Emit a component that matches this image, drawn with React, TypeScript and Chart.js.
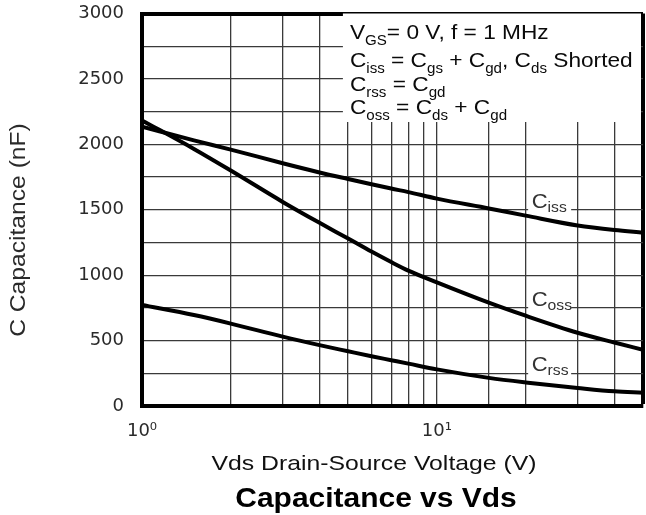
import React, { useEffect, useRef } from "react";
import { Chart, registerables } from "chart.js";

Chart.register(...registerables);

// ---- data ----
const vds = [1, 1.5, 2, 3, 4, 5, 6, 7, 8, 10, 15, 20, 30, 40, 50];
const ciss = [2135, 2030, 1960, 1855, 1785, 1735, 1695, 1662, 1635, 1585, 1510, 1455, 1380, 1345, 1325];
const coss = [2183, 1965, 1800, 1560, 1400, 1280, 1180, 1100, 1035, 945, 790, 690, 560, 485, 430];
const crss = [772, 695, 630, 530, 465, 418, 380, 350, 324, 280, 215, 180, 138, 112, 102];

const yLabelTicks = [0, 500, 1000, 1500, 2000, 2500, 3000];
const xLabelTicks = [1, 10];
const xTickText = ["10⁰", "10¹"];

const chartTitle = "Capacitance vs Vds";
const xTitle = "Vds Drain-Source Voltage (V)";
const yTitle = "C Capacitance (nF)";

type Run = [string, boolean];
const legendLines: Run[][] = [
  [["V", false], ["GS", true], ["= 0 V, f = 1 MHz", false]],
  [["C", false], ["iss", true], [" = C", false], ["gs", true], [" + C", false], ["gd", true], [", C", false], ["ds", true], [" Shorted", false]],
  [["C", false], ["rss", true], [" = C", false], ["gd", true]],
  [["C", false], ["oss", true], [" = C", false], ["ds", true], [" + C", false], ["gd", true]],
];

const curveLabelSubs = ["iss", "oss", "rss"];
const curveLabelX = [20, 20, 20];
const curveLabelY = [1500, 750, 250];

const SANS = "'Liberation Sans', Arial, Helvetica, sans-serif";
const TICK_FONT = "'DejaVu Sans', 'Liberation Sans', sans-serif";

function drawRuns(
  ctx: CanvasRenderingContext2D,
  runs: Run[],
  x: number,
  y: number,
  size: number,
  subSize: number,
  subDy: number,
  sx: number
) {
  ctx.save();
  ctx.translate(x, y);
  ctx.scale(sx, 1);
  ctx.textAlign = "left";
  ctx.textBaseline = "alphabetic";
  let cx = 0;
  for (const [t, sub] of runs) {
    ctx.font = `${sub ? subSize : size}px ${SANS}`;
    ctx.fillText(t, cx, sub ? subDy : 0);
    cx += ctx.measureText(t).width;
  }
  ctx.restore();
  return cx * sx;
}

const overlayPlugin = {
  id: "overlay",
  beforeDatasetsDraw(chart: any) {
    const { ctx, chartArea } = chart;
    const xs = chart.scales.x;
    const ys = chart.scales.y;
    const w = chartArea.right - chartArea.left;
    // legend box
    const boxL = chartArea.left + w * 0.401;
    const boxB = chartArea.top + 108.5;
    ctx.save();
    ctx.fillStyle = "#ffffff";
    ctx.fillRect(boxL, chartArea.top, chartArea.right - 2 - boxL, boxB - chartArea.top);
    ctx.fillStyle = "#0a0a0a";
    const baselines = [25.5, 53.5, 77.5, 100.5];
    legendLines.forEach((runs, i) => {
      drawRuns(ctx, runs, boxL + 7, chartArea.top + baselines[i], 21, 14, 6, 1.08);
    });
    // curve labels
    curveLabelSubs.forEach((sub, i) => {
      const px = xs.getPixelForValue(curveLabelX[i]);
      const lineY = ys.getPixelForValue(curveLabelY[i]);
      ctx.fillStyle = "#ffffff";
      ctx.fillRect(px + 2.5, lineY - 24, 43, 26);
      ctx.fillStyle = "#333333";
      drawRuns(ctx, [["C", false], [sub, true]], px + 6, lineY - 2, 21, 15, 4, 1.05);
    });
    ctx.restore();
  },
  afterDraw(chart: any) {
    const { ctx } = chart;
    ctx.save();
    ctx.textAlign = "center";
    ctx.textBaseline = "alphabetic";
    // y axis title
    ctx.save();
    ctx.translate(25, 230);
    ctx.rotate(-Math.PI / 2);
    ctx.scale(1.12, 1);
    ctx.fillStyle = "#2a2a2a";
    ctx.font = `22px ${SANS}`;
    ctx.fillText(yTitle, 0, 0);
    ctx.restore();
    // x axis title
    ctx.save();
    ctx.translate(374, 470);
    ctx.scale(1.18, 1);
    ctx.fillStyle = "#111111";
    ctx.font = `21px ${SANS}`;
    ctx.fillText(xTitle, 0, 0);
    ctx.restore();
    // chart title
    ctx.save();
    ctx.translate(376, 506.5);
    ctx.scale(1.07, 1);
    ctx.fillStyle = "#000000";
    ctx.font = `bold 28px ${SANS}`;
    ctx.fillText(chartTitle, 0, 0);
    ctx.restore();
    ctx.restore();
  },
};

export default function App() {
  const canvasRef = useRef<HTMLCanvasElement | null>(null);

  useEffect(() => {
    document.body.style.margin = "0";
    document.body.style.background = "#ffffff";
    const canvas = canvasRef.current;
    if (!canvas) return;
    const mk = (vals: number[]) => vds.map((x, i) => ({ x, y: vals[i] }));
    const ds = (label: string, vals: number[]) => ({
      label,
      data: mk(vals),
      borderColor: "#000000",
      borderWidth: 4,
      pointRadius: 0,
      fill: false,
      cubicInterpolationMode: "monotone" as const,
    });
    const chart = new Chart(canvas, {
      type: "line",
      data: {
        datasets: [ds("Ciss", ciss), ds("Coss", coss), ds("Crss", crss)],
      },
      options: {
        responsive: false,
        maintainAspectRatio: false,
        animation: false,
        layout: { padding: { top: 13.5, right: 3, left: 0, bottom: 0 } },
        plugins: {
          legend: { display: false },
          tooltip: { enabled: false },
          title: { display: false },
        },
        scales: {
          x: {
            type: "logarithmic",
            min: 1,
            max: 50,
            position: "bottom",
            grid: {
              drawTicks: false,
              color: (c: any) => (c.tick && c.tick.value === 50 ? "#000000" : "#3a3a3a"),
              lineWidth: (c: any) => (c.tick && c.tick.value === 50 ? 4 : 1.3),
            },
            border: { color: "#000000", width: 4 },
            ticks: {
              autoSkip: false,
              maxRotation: 0,
              padding: 15,
              color: "#2a2a2a",
              font: { family: TICK_FONT, size: 18 },
              callback: (v: any) => {
                const i = xLabelTicks.findIndex((t) => Math.abs(t - Number(v)) < 1e-9);
                return i >= 0 ? xTickText[i] : "";
              },
            },
            afterFit: (s: any) => {
              s.height = 109;
              s.paddingLeft = 0;
              s.paddingRight = 0;
            },
          },
          y: {
            type: "linear",
            min: 0,
            max: 3000,
            grid: {
              drawTicks: false,
              color: (c: any) => (c.tick && c.tick.value === 3000 ? "#000000" : "#3a3a3a"),
              lineWidth: (c: any) => (c.tick && c.tick.value === 3000 ? 4 : 1.3),
            },
            border: { color: "#000000", width: 4 },
            ticks: {
              stepSize: 250,
              padding: 18,
              color: "#2a2a2a",
              font: { family: TICK_FONT, size: 18 },
              callback: (v: any) => (yLabelTicks.includes(Number(v)) ? String(v) : ""),
            },
            afterFit: (s: any) => {
              s.width = 142;
              s.paddingTop = 0;
              s.paddingBottom = 0;
            },
          },
        },
      },
      plugins: [overlayPlugin],
    });
    return () => chart.destroy();
  }, []);

  return (
    <div style={{ position: "relative", width: 646, height: 515, background: "#ffffff" }}>
      <canvas ref={canvasRef} width={646} height={515} style={{ display: "block" }} />
    </div>
  );
}
